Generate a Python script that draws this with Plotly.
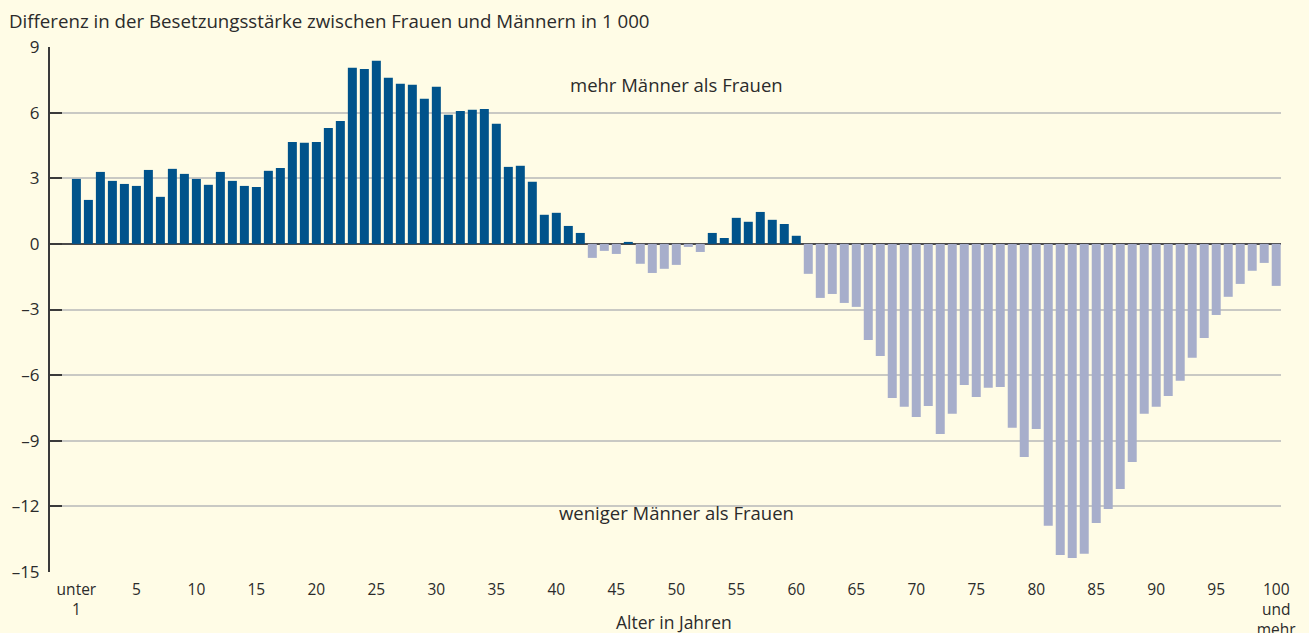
import plotly.graph_objects as go

ages = list(range(101))
values = [
    2.97, 2.01, 3.29, 2.88, 2.74, 2.65, 3.38, 2.15, 3.43, 3.20,
    2.97, 2.70, 3.29, 2.88, 2.65, 2.60, 3.34, 3.47, 4.66, 4.62,
    4.66, 5.30, 5.62, 8.05, 8.00, 8.37, 7.59, 7.32, 7.27, 6.63,
    7.18, 5.90, 6.08, 6.13, 6.17, 5.49, 3.52, 3.57, 2.84, 1.33,
    1.42, 0.82, 0.50, -0.64, -0.32, -0.46, 0.09, -0.91, -1.33, -1.14,
    -0.96, -0.14, -0.37, 0.50, 0.27, 1.19, 1.01, 1.46, 1.10, 0.91,
    0.37, -1.37, -2.47, -2.29, -2.70, -2.88, -4.39, -5.12, -7.04, -7.45,
    -7.91, -7.41, -8.69, -7.77, -6.45, -7.00, -6.58, -6.54, -8.41, -9.74,
    -8.46, -12.89, -14.22, -14.36, -14.17, -12.76, -12.12, -11.20, -9.97, -7.77,
    -7.45, -6.95, -6.26, -5.21, -4.30, -3.25, -2.42, -1.83, -1.23, -0.87,
    -1.92,
]
x_tickvals = list(range(0, 101, 5))
x_ticktext = ["unter<br>1"] + [str(v) for v in range(5, 100, 5)] + ["100<br>und<br>mehr"]
y_tickvals = [9, 6, 3, 0, -3, -6, -9, -12, -15]
y_ticktext = ["9", "6", "3", "0", "\u20133", "\u20136", "\u20139", "\u201312", "\u201315"]

BLUE = "#00538B"
LIGHT = "#A7AECB"
BG = "#FFFCE6"
TXT = "#2b2b2b"
FONT = "Open Sans"

colors = [BLUE if v >= 0 else LIGHT for v in values]

fig = go.Figure()
fig.add_trace(go.Bar(x=ages, y=values, marker=dict(color=colors, line=dict(width=0)),
                     width=0.75, hoverinfo="x+y"))

fig.update_layout(
    width=1309, height=633,
    margin=dict(l=50, r=28, t=47, b=61),
    paper_bgcolor=BG, plot_bgcolor=BG,
    showlegend=False,
    font=dict(family=FONT, size=17, color=TXT),
    xaxis=dict(range=[-2.2, 100.4], tickvals=x_tickvals, ticktext=x_ticktext,
               showgrid=False, zeroline=False, showline=False, ticks="",
               automargin=False,
               tickfont=dict(size=15.5, color=TXT), ticklabelstandoff=6),
    yaxis=dict(range=[-15, 9], tickvals=y_tickvals, ticktext=y_ticktext,
               showgrid=True, gridcolor="#C9C9C4", gridwidth=1.5,
               zeroline=True, zerolinecolor="#4a4a4a", zerolinewidth=2,
               showline=True, linecolor="#3a3a3a", linewidth=2,
               ticks="inside", ticklen=12, tickwidth=2, tickcolor="#3a3a3a",
               automargin=False, ticklabelstandoff=5,
               tickfont=dict(size=17, color=TXT)),
    annotations=[
        dict(text="Differenz in der Besetzungsstärke zwischen Frauen und Männern in 1 000",
             xref="paper", yref="paper", x=0, y=1, xshift=-43, yshift=27,
             xanchor="left", yanchor="middle", showarrow=False, font=dict(size=18.7, color=TXT)),
        dict(text="mehr Männer als Frauen", xref="x", yref="y", x=50, y=7.3,
             xanchor="center", yanchor="middle", showarrow=False, font=dict(size=18.5, color=TXT)),
        dict(text="weniger Männer als Frauen", xref="x", yref="y", x=50, y=-12.3,
             xanchor="center", yanchor="middle", showarrow=False, font=dict(size=18.5, color=TXT)),
        dict(text="Alter in Jahren", xref="paper", yref="paper", x=0.507, y=0, yshift=-50,
             xanchor="center", yanchor="middle", showarrow=False, font=dict(size=17.5, color=TXT)),
    ],
)

fig.write_html(
    "out.html",
    config={"displayModeBar": False},
    post_script="document.body.style.margin='0';document.body.style.overflow='hidden';",
)
